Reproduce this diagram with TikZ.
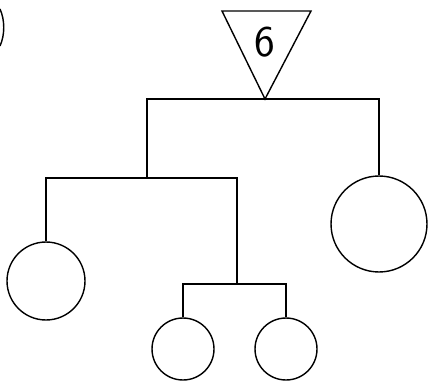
\documentclass[tikz,border=0pt]{standalone}
\usepackage{tikz}
\usetikzlibrary{positioning, calc}

\begin{document}
\begin{tikzpicture}[
    x=0.02cm, y=-0.02cm,
    line width=0.8pt,
    person/.style={draw, circle, inner sep=0pt},
    big/.style={person, minimum size=1.92cm},
    mid/.style={person, minimum size=1.56cm},
    small/.style={person, minimum size=1.24cm},
    font=\sffamily,
]
    \useasboundingbox (0,0) rectangle (428,381);

    % pedigree head
    \coordinate (tl)   at (222,11);
    \coordinate (tr)   at (311,11);
    \coordinate (apex) at (265,99);
    \draw (tl) -- (tr) -- (apex) -- cycle;
    \node (num) at (265,42) {\fontsize{25}{25}\selectfont 6};

    \node[big]   (right) at (379,224) {};
    \node[mid]   (left)  at (46,281)  {};
    \node[small] (kid1)  at (183,349) {};
    \node[small] (kid2)  at (286,349) {};

    \coordinate (j1) at (147,178);
    \coordinate (j2) at (237,284);

    \draw (j1) |- (apex) -| (right);
    \draw (left) |- (j1) -| (j2);
    \draw (kid1) |- (j2) -| (kid2);

    % cut off mark at the edge
    \draw (0,9) .. controls (5,20) and (5,35) .. (0,46);
\end{tikzpicture}
\end{document}
